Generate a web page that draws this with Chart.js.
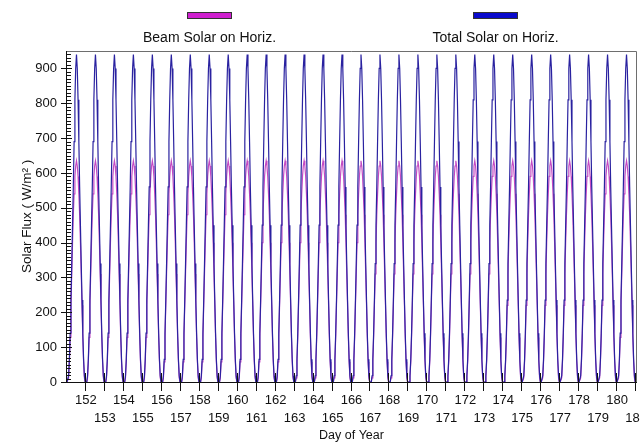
<!DOCTYPE html>
<html><head><meta charset="utf-8">
<script src="https://cdn.jsdelivr.net/npm/chart.js@4.4.1/dist/chart.umd.min.js"></script>
<style>
html,body{margin:0;padding:0;background:#fff;overflow:hidden;}
#wrap{width:640px;height:446px;overflow:hidden;position:relative;background:#fff;}
canvas{display:block;}
</style></head><body>
<div id="wrap"><canvas id="c" width="680" height="446"></canvas></div>
<script>
// ---- data ----
const days = [151,152,153,154,155,156,157,158,159,160,161,162,163,164,165,166,167,168,169,170,171,172,173,174,175,176,177,178,179,180];
const hours = [0,1,2,3,4,5,6,7,8,9,10,11,12,13,14,15,16,17,18,19,20,21,22,23];
const hourlyTotal = [0,0,18,65,140,235,340,450,560,690,810,900,940,900,810,690,560,450,340,235,140,65,18,0];
const hourlyBeam  = [0,0,12,58,128,220,310,400,480,540,590,620,635,620,590,540,480,400,310,220,128,58,12,0];
const xTickValues = [151,152,153,154,155,156,157,158,159,160,161,162,163,164,165,166,167,168,169,170,171,172,173,174,175,176,177,178,179,180,181];
const yTickValues = [0,100,200,300,400,500,600,700,800,900];
const seriesLabels = ['Beam Solar on Horiz.', 'Total Solar on Horiz.'];
const xTitle = 'Day of Year';
const yTitle = 'Solar Flux ( W/m\u00B2 )';

function buildSeries(profile){
  const pts = [];
  days.forEach(d => hours.forEach((h, i) => pts.push({x: d + h / 24, y: profile[i]})));
  pts.push({x: days[days.length - 1] + 1, y: profile[0]});
  return pts;
}

const FONT = "'Liberation Sans', Arial, sans-serif";

const framePlugin = {
  id: 'frame',
  afterDatasetsDraw(chart) {
    const {ctx, chartArea: a, scales: {x, y}} = chart;
    ctx.save();
    ctx.lineWidth = 1;
    ctx.strokeStyle = '#6e6e6e';
    ctx.beginPath();
    ctx.moveTo(a.left, a.top + 0.5); ctx.lineTo(a.right + 0.5, a.top + 0.5);
    ctx.lineTo(a.right + 0.5, a.bottom);
    ctx.stroke();
    ctx.strokeStyle = '#111';
    ctx.beginPath();
    ctx.moveTo(a.left - 0.5, a.top); ctx.lineTo(a.left - 0.5, a.bottom + 0.5);
    ctx.lineTo(a.right + 1, a.bottom + 0.5);
    ctx.stroke();
    ctx.beginPath();
    for (let v = 0; v <= 940; v += 10) {
      const py = Math.round(y.getPixelForValue(v)) + 0.5;
      if (v % 100 === 0) { ctx.moveTo(a.left - 6, py); ctx.lineTo(a.left + 5, py); }
      else { ctx.moveTo(a.left - 0.5, py); ctx.lineTo(a.left + 4, py); }
    }
    xTickValues.forEach(v => {
      if (v === xTickValues[0]) return;
      const px = Math.round(x.getPixelForValue(v)) - 0.5;
      ctx.moveTo(px, a.bottom - 9); ctx.lineTo(px, a.bottom + 9);
    });
    ctx.stroke();
    ctx.restore();
  }
};

const legendPlugin = {
  id: 'topLegend',
  afterDraw(chart) {
    const {ctx} = chart;
    const centers = [209.5, 495.5];
    ctx.save();
    chart.data.datasets.forEach((ds, i) => {
      const cx = centers[i];
      ctx.fillStyle = ds.backgroundColor;
      ctx.fillRect(cx - 22, 12.5, 44, 6);
      ctx.strokeStyle = '#333';
      ctx.lineWidth = 1;
      ctx.strokeRect(cx - 22, 12.5, 44, 6);
      ctx.fillStyle = '#111';
      ctx.font = '14px ' + FONT;
      ctx.textAlign = 'center';
      ctx.textBaseline = 'alphabetic';
      ctx.fillText(ds.label, cx, 42);
    });
    ctx.restore();
  }
};

new Chart(document.getElementById('c'), {
  type: 'line',
  data: {
    datasets: [
      {label: seriesLabels[0], data: buildSeries(hourlyBeam), order: 2, borderColor: '#c44ac4', backgroundColor: '#d020d0', borderWidth: 1.2, pointRadius: 0, tension: 0, fill: false},
      {label: seriesLabels[1], data: buildSeries(hourlyTotal), order: 1, borderColor: '#2a22a0', backgroundColor: '#0a0acc', borderWidth: 1.2, pointRadius: 0, tension: 0, fill: false}
    ]
  },
  options: {
    responsive: false,
    animation: false,
    devicePixelRatio: 1,
    layout: {padding: {top: 51, right: 44, bottom: 0, left: 0}},
    plugins: {legend: {display: false}, tooltip: {enabled: false}},
    scales: {
      x: {
        type: 'linear', min: 151, max: 181,
        grid: {display: false, drawTicks: false},
        border: {display: false},
        afterBuildTicks: s => { s.ticks = xTickValues.map(v => ({value: v})); },
        afterFit: s => { s.height = 64; },
        ticks: {
          autoSkip: false, maxRotation: 0, minRotation: 0, padding: 9, color: '#111',
          font: {family: FONT, size: 13, lineHeight: 18/13},
          callback: v => v === xTickValues[0] ? '' : (v % 2 === 0 ? [String(v), ''] : ['', String(v)])
        },
        title: {display: true, text: xTitle, color: '#111', font: {family: FONT, size: 12.5}, padding: {top: 0, bottom: 2.5}}
      },
      y: {
        min: 0, max: 950,
        grid: {display: false, drawTicks: false},
        border: {display: false},
        afterBuildTicks: s => { s.ticks = yTickValues.map(v => ({value: v})); },
        afterFit: s => { s.width = 67; },
        ticks: {padding: 10, color: '#111', font: {family: FONT, size: 13}},
        title: {display: true, text: yTitle, color: '#111', font: {family: FONT, size: 13.5}, padding: {top: 19, bottom: 0}}
      }
    }
  },
  plugins: [framePlugin, legendPlugin]
});
</script>
</body></html>
